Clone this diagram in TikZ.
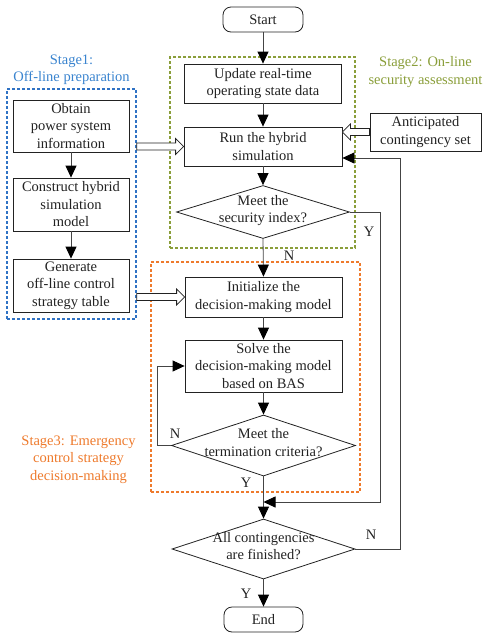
\documentclass[tikz,border=0pt]{standalone}
\usepackage{fontspec}
\setmainfont{Liberation Serif}
\usetikzlibrary{shapes.geometric,arrows.meta,calc}

\definecolor{ink}{HTML}{222222}
\definecolor{wire}{HTML}{444444}
\definecolor{stageblue}{HTML}{2F72C4}
\definecolor{stagebluetext}{HTML}{3A84CF}
\definecolor{stagegreen}{HTML}{8A9E3A}
\definecolor{stageorange}{HTML}{EE7A2C}

% text of a decision node, kept out of the shape's size
\newcommand\dlines[1]{\raisebox{-0.15em}[0pt][0pt]{\makebox[0pt]{\begin{tabular}{@{}c@{}}#1\end{tabular}}}}

% wide open arrow between two points on one horizontal line
\newcommand\hollowarrow[3]{%
  \path[hollow] let \p1=(#1), \p2=(#2), \n1={\x2-(#3)*8pt} in
    (\x1,{\y1+3.5pt}) -- (\n1,{\y1+3.5pt}) -- (\n1,{\y1+8pt})
    -- (\x2,\y1) -- (\n1,{\y1-8pt}) -- (\n1,{\y1-3.5pt})
    -- (\x1,{\y1-3.5pt}) -- cycle;}

\begin{document}
\begin{tikzpicture}[x=1pt,y=-1pt,
  font=\fontsize{14.5}{17.5}\selectfont,
  box/.style={draw=ink, line width=0.8pt, rectangle, inner sep=0pt, align=center, text=ink},
  term/.style={box, rounded corners=8pt},
  decision/.style={draw=ink, line width=0.8pt, diamond, inner sep=0pt, text=ink},
  flow/.style={draw=wire, line width=0.8pt, -{Triangle[length=12pt,width=11pt,color=black]}},
  hollow/.style={draw=ink, line width=0.8pt, fill=white},
  stagebox/.style={line width=1.3pt, dash pattern=on 3pt off 2pt, rectangle, inner sep=0pt},
  lbl/.style={text=ink, inner sep=0pt},
  stagelbl/.style={align=center, inner sep=0pt}]

\useasboundingbox (0,0) rectangle (484,633);

% stage frames
\node[stagebox, draw=stageblue, minimum width=129pt, minimum height=230pt] (stage1) at (71.5,204) {};
\node[stagebox, draw=stagegreen, minimum width=185pt, minimum height=191pt] (stage2) at (262.5,152.5) {};
\node[stagebox, draw=stageorange, minimum width=209pt, minimum height=230pt] (stage3) at (255.5,377) {};

% stage titles
\node[stagelbl, text=stagebluetext] (t1) at (71.5,69.5) {Stage1:\\Off-line preparation};
\node[stagelbl, text=stagegreen] (t2) at (425.5,72) {Stage2: On-line\\security assessment};
\node[stagelbl, text=stageorange] (t3) at (78.5,459.5) {Stage3: Emergency\\control strategy\\decision-making};

% main column
\node[term, minimum width=80pt, minimum height=25pt] (start) at (263,19.5) {Start};
\node[box, minimum width=157pt, minimum height=39pt] (update) at (263,83.5) {Update real-time\\operating state data};
\node[box, minimum width=158pt, minimum height=39pt] (run) at (263,146.5) {Run the hybrid\\simulation};
\node[decision, minimum width=173pt, minimum height=53pt] (d1) at (263,212) {\dlines{Meet the\\security index?}};
\node[box, minimum width=157pt, minimum height=40pt] (init) at (263.5,297) {Initialize the\\decision-making model};
\node[box, minimum width=157pt, minimum height=52pt] (solve) at (263.5,366) {Solve the\\decision-making model\\based on BAS};
\node[decision, minimum width=184pt, minimum height=61pt] (d2) at (263.5,445.5) {\dlines{Meet the\\termination criteria?}};
\node[decision, minimum width=183pt, minimum height=60pt] (d3) at (263.5,549) {\dlines{All contingencies\\are finished?}};
\node[term, minimum width=79pt, minimum height=25pt] (end) at (263.5,619.5) {End};

% off-line column
\node[box, minimum width=116pt, minimum height=52pt] (obtain) at (71,126) {Obtain\\power system\\information};
\node[box, minimum width=116pt, minimum height=53pt] (construct) at (71,204.5) {Construct hybrid\\simulation\\model};
\node[box, minimum width=116pt, minimum height=53pt] (generate) at (71,285.5) {Generate\\off-line control\\strategy table};

% contingency input
\node[box, minimum width=111pt, minimum height=38pt] (ant) at (425.5,132) {Anticipated\\contingency set};

% bend points
\coordinate (yturn) at (380,502);
\coordinate (merge) at (263.5,502);
\coordinate (fb) at (400,158);
\coordinate (nloop) at (157,445.5);
\coordinate (h1s) at (stage1.east |- run.west);
\coordinate (h2s) at (stage1.east |- init.west);
\coordinate (h3e) at (run.east |- ant.west);

% flow
\draw[flow] (start) -- (update);
\draw[flow] (update) -- (run);
\draw[flow] (run) -- (d1);
\draw[flow] (d1.south) -- (init.north);
\draw[flow] (init) -- (solve);
\draw[flow] (solve) -- (d2);
\draw[flow] (d2.south) -- (d3.north);
\draw[flow] (d3.south) -- (end.north);
\draw[flow] (d2.west) -- (nloop) |- (solve.west);
\draw[flow] (d1.east) -| (yturn) -- (merge);
\draw[flow] (d3.east) -| (fb) -- (run.east |- fb);
\draw[flow] (obtain) -- (construct);
\draw[flow] (construct) -- (generate);

% data hand-overs
\hollowarrow{h1s}{run.west}{1}
\hollowarrow{h2s}{init.west}{1}
\hollowarrow{ant.west}{h3e}{-1}

% branch labels
\node[lbl] (n1) at (289,256) {N};
\node[lbl] (y1) at (369,232) {Y};
\node[lbl] (n2) at (175,434) {N};
\node[lbl] (y2) at (246,483) {Y};
\node[lbl] (n3) at (371,535) {N};
\node[lbl] (y3) at (246,594) {Y};

\end{tikzpicture}
\end{document}
